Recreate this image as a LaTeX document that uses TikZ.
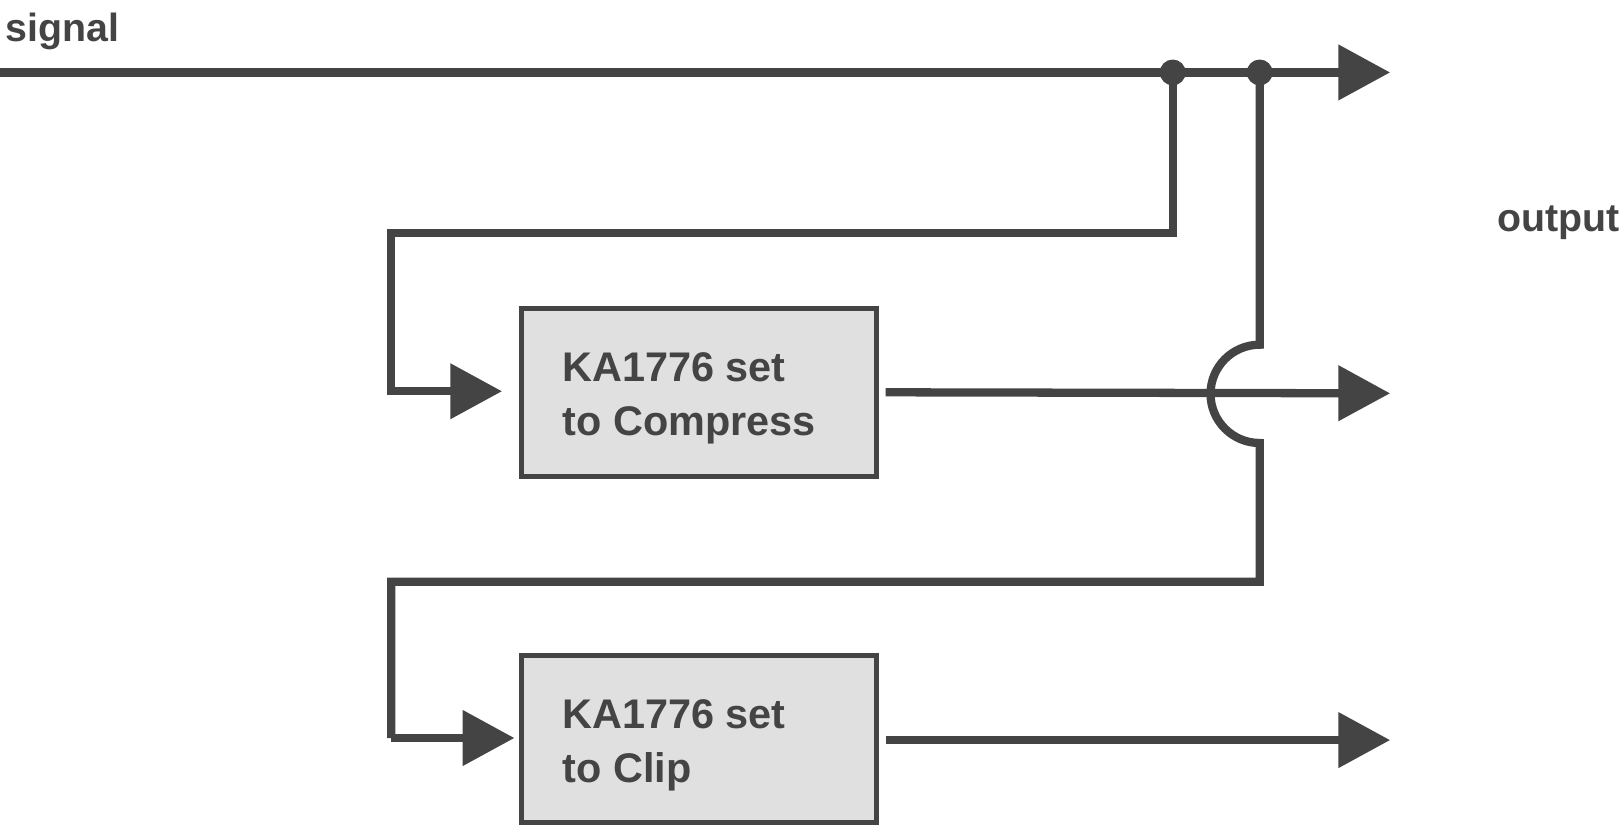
\documentclass[tikz,border=0pt]{standalone}
\usepackage{fontspec}
\setmainfont{Liberation Sans}
\usetikzlibrary{arrows.meta}
\definecolor{dg}{HTML}{444444}
\definecolor{bx}{HTML}{E0E0E0}
\begin{document}
\begin{tikzpicture}[x=1pt,y=-1pt,
  wire/.style={draw=dg,line width=8pt},
  arr/.style={wire,-{Triangle[length=50pt,width=52pt]}},
  box/.style={draw=dg,fill=bx,line width=5pt,minimum width=343pt,minimum height=162pt,inner sep=0pt},
  lbl/.style={text=dg,font=\bfseries\fontsize{40}{52}\selectfont,align=left},
  dot/.style={circle,fill=dg,minimum size=25pt,inner sep=0pt}]
\useasboundingbox (0,0) rectangle (1568,797);
\node[box] (b1) at (675.5,379) {};
\node[lbl,anchor=west] (t1) at (540,385) {KA1776 set\\to Compress};
\node[box] (b2) at (675.5,714) {};
\node[lbl,anchor=west] (t2) at (540,720) {KA1776 set\\to Clip};
\node[text=dg,font=\bfseries\fontsize{38}{40}\selectfont,anchor=west] (sig) at (2,30) {signal};
\node[text=dg,font=\bfseries\fontsize{38}{40}\selectfont,anchor=east] (out) at (1568,215) {output};
\coordinate (s0) at (0,70);
\coordinate (s1) at (1343,70);
\node[dot] (d1) at (1133,70) {};
\node[dot] (d2) at (1217,70) {};
\coordinate (i1) at (485,378);
\coordinate (i2) at (497,713);
\coordinate (o1) at (1343,380);
\coordinate (o2) at (1343,715);
\draw[arr] (s0) -- (s1);
\draw[arr] (d1.center) -- (1133,225) -- (378,225) -- (378,378) -- (i1);
\draw[wire] (d2.center) -- (1217,333) arc[start angle=-90,end angle=-270,radius=47.5] -- (1217,562) -- (378,562) -- (378,713);
\draw[arr] (378,713) -- (i2);
\draw[arr] (b1.east) ++(6,0) -- (o1);
\draw[arr] (b2.east) ++(6,1) -- (o2);
\end{tikzpicture}
\end{document}
